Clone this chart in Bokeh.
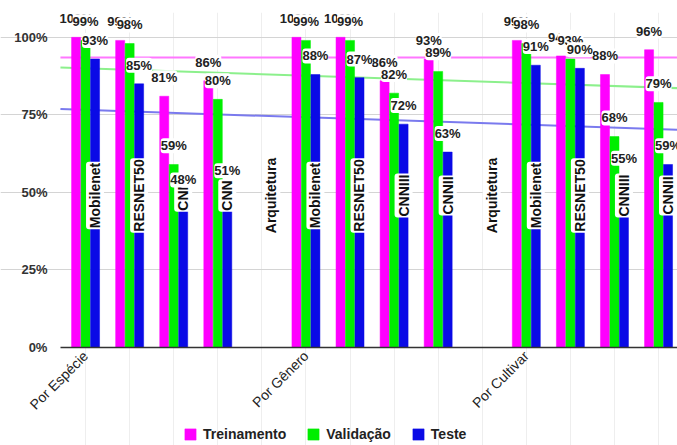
import math
import numpy as np
from bokeh.plotting import figure
from bokeh.models import (FixedTicker, Legend, LegendItem,
                          PrintfTickFormatter, Range1d)
from bokeh.core.properties import value
from bokeh.embed import file_html
from bokeh.resources import INLINE

# ---------------- data ----------------
groups = ["Por Espécie", "Por Gênero", "Por Cultivar"]
group_pos = [0, 5, 10]
models = ["Mobilenet", "RESNET50", "CNN", "CNN", "Arquitetura",
          "Mobilenet", "RESNET50", "CNNIII", "CNNII", "Arquitetura",
          "Mobilenet", "RESNET50", "CNNIII", "CNNII"]
treinamento = [100, 99, 81, 86, None, 100, 100, 86, 93, None, 99, 94, 88, 96]
validacao = [99, 98, 59, 80, None, 99, 99, 82, 89, None, 98, 93, 68, 79]
teste = [93, 85, 48, 51, None, 88, 87, 72, 63, None, 91, 90, 55, 59]
series_names = ["Treinamento", "Validação", "Teste"]
y_ticks = [0, 25, 50, 75, 100]

# ---------------- style ----------------
colors = ["#ff00ff", "#00ee00", "#0a0ae6"]
trend_colors = ["#ff77ff", "#8cf08c", "#7a7aee"]
offsets = [-0.215, 0.0, 0.215]
bar_w = 0.205
FONT = "Liberation Sans"
X_VIEW = -1.93      # left edge of the drawing area (room for y labels)
X0, X1 = -0.57, 13.43   # plot area proper
Y_TOP = 108
Y_BOTTOM = -31.6   # room below the baseline for axis labels and legend

p = figure(frame_width=677, frame_height=433, output_backend="svg",
           toolbar_location=None,
           x_range=Range1d(X_VIEW, X1), y_range=Range1d(Y_BOTTOM, Y_TOP),
           min_border_left=0, min_border_right=0, min_border_top=12,
           min_border_bottom=0)
p.outline_line_color = None
p.background_fill_color = "white"

all_series = [treinamento, validacao, teste]

# trendlines (linear regression over category index)
for vals, tc in zip(all_series, trend_colors):
    idx = np.array([i for i, v in enumerate(vals) if v is not None], dtype=float)
    vv = np.array([v for v in vals if v is not None], dtype=float)
    m, b = np.polyfit(idx, vv, 1)
    p.line([X0, X1], [m * X0 + b, m * X1 + b], line_color=tc, line_width=2)

# bars
bar_renderers = []
for vals, off, col in zip(all_series, offsets, colors):
    xs = [i + off for i, v in enumerate(vals) if v is not None]
    ys = [v for v in vals if v is not None]
    r = p.vbar(x=xs, top=ys, width=bar_w, bottom=0, fill_color=col,
               line_color=col, line_width=0.5)
    bar_renderers.append(r)

# model name labels (rotated, at blue bar position)
mx = [i + offsets[2] for i in range(len(models))]
my = [49.0] * len(models)
p.text(x=mx, y=my, text=models, angle=math.pi / 2, text_align="center",
       text_baseline="middle", text_font=value(FONT), text_font_style="bold",
       text_font_size="14px", text_color="#111111",
       background_fill_color="white", border_radius=3, padding=1)

# value labels (pink first, then green, then blue)
for vals, off in zip(all_series, offsets):
    xs = [i + off for i, v in enumerate(vals) if v is not None]
    ys = [v + 6.0 for v in vals if v is not None]
    txt = [f"{v}%" for v in vals if v is not None]
    p.text(x=xs, y=ys, text=txt, text_align="center", text_baseline="middle",
           text_font=value(FONT), text_font_style="bold", text_font_size="13px",
           text_color="#222222", background_fill_color="white",
           border_radius=3, padding=0)

# axes
p.xaxis.fixed_location = 0
p.xaxis.bounds = (X0, X1)
p.xaxis.ticker = FixedTicker(ticks=group_pos)
p.xaxis.major_label_overrides = {gp: g for gp, g in zip(group_pos, groups)}
p.xaxis.major_label_orientation = math.pi / 4
p.xaxis.major_tick_line_color = None
p.xaxis.major_tick_out = 0
p.xaxis.minor_tick_line_color = None
p.xaxis.axis_line_color = "#333333"
p.xaxis.axis_line_width = 1.5
p.xaxis.major_label_text_font = FONT
p.xaxis.major_label_text_font_size = "14px"
p.xaxis.major_label_text_color = "#222222"
p.xaxis.major_label_standoff = 6

p.yaxis.fixed_location = X0
p.yaxis.ticker = FixedTicker(ticks=y_ticks)
p.yaxis.formatter = PrintfTickFormatter(format="%d%%")
p.yaxis.axis_line_color = None
p.yaxis.major_tick_line_color = None
p.yaxis.major_tick_out = 0
p.yaxis.minor_tick_line_color = None
p.yaxis.major_label_text_font = FONT
p.yaxis.major_label_text_font_style = "bold"
p.yaxis.major_label_text_font_size = "13px"
p.yaxis.major_label_text_color = "#333333"
p.yaxis.major_label_standoff = 13

p.ygrid.ticker = FixedTicker(ticks=y_ticks[1:])
p.ygrid.grid_line_color = "#d4d4d4"
p.ygrid.bounds = (X0, X1)
p.xgrid.ticker = FixedTicker(ticks=list(range(len(models))))
p.xgrid.grid_line_color = "#eeeeee"
p.xgrid.bounds = (0, Y_TOP)

legend = Legend(items=[LegendItem(label=n, renderers=[r])
                       for n, r in zip(series_names, bar_renderers)],
                orientation="horizontal", location=(183, 3),
                glyph_width=14, glyph_height=14, spacing=20, label_standoff=6,
                label_text_font=FONT, label_text_font_style="bold",
                label_text_font_size="14px", label_text_color="#222222",
                border_line_color=None, background_fill_alpha=0,
                padding=2, margin=0)
p.add_layout(legend)

open("out.html", "w").write(file_html(p, INLINE))
